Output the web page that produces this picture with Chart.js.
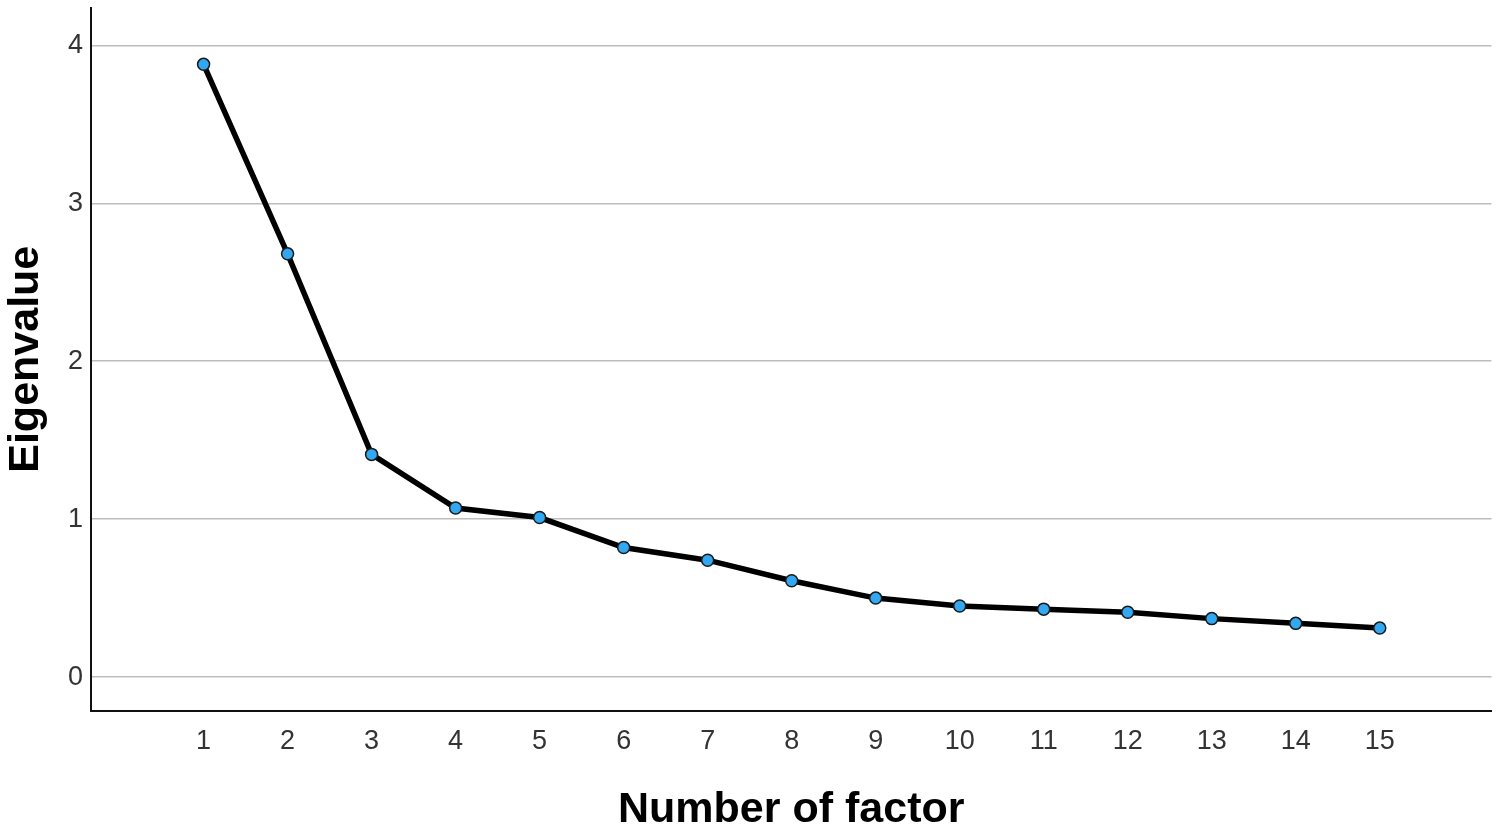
<!DOCTYPE html>
<html>
<head>
<meta charset="utf-8">
<script src="https://cdn.jsdelivr.net/npm/chart.js@4"></script>
<style>
  html, body { margin: 0; padding: 0; background: #fff; }
  #wrap { width: 1499px; height: 830px; }
</style>
</head>
<body>
<div id="wrap"><canvas id="chart"></canvas></div>
<script>
// Scree plot data
const factors = [1, 2, 3, 4, 5, 6, 7, 8, 9, 10, 11, 12, 13, 14, 15];
const eigenvalues = [3.88, 2.68, 1.41, 1.07, 1.01, 0.82, 0.74, 0.61, 0.50, 0.45, 0.43, 0.41, 0.37, 0.34, 0.31];
const yTicks = [0, 1, 2, 3, 4];

const points = factors.map((f, i) => ({ x: f, y: eigenvalues[i] }));
const fontFamily = 'Liberation Sans, Arial, sans-serif';

const ctx = document.getElementById('chart').getContext('2d');
new Chart(ctx, {
  type: 'line',
  data: {
    datasets: [{
      data: points,
      borderColor: '#000',
      borderWidth: 5.5,
      pointRadius: 6,
      pointBorderWidth: 1.5,
      pointBackgroundColor: '#33a8f2',
      pointBorderColor: '#1a1a1a',
      tension: 0,
      fill: false
    }]
  },
  options: {
    responsive: true,
    maintainAspectRatio: false,
    animation: false,
    layout: { padding: { top: 7, right: 7, left: 0, bottom: 0 } },
    plugins: { legend: { display: false }, tooltip: { enabled: false } },
    scales: {
      x: {
        type: 'linear',
        min: -0.34,
        max: 16.33,
        afterBuildTicks: (axis) => { axis.ticks = factors.map(v => ({ value: v })); },
        afterFit: (axis) => { axis.height = 119; axis.paddingLeft = 0; axis.paddingRight = 0; },
        grid: { display: false, drawTicks: false },
        border: { display: true, color: '#111', width: 2 },
        ticks: {
          color: '#333',
          font: { family: fontFamily, size: 27 },
          padding: 14,
          maxRotation: 0
        },
        title: {
          display: true,
          text: 'Number of factor',
          color: '#000',
          font: { family: fontFamily, size: 43, weight: 'bold' },
          padding: { top: 10, bottom: -6 }
        }
      },
      y: {
        type: 'linear',
        min: -0.215,
        max: 4.24,
        afterBuildTicks: (axis) => { axis.ticks = yTicks.map(v => ({ value: v })); },
        afterFit: (axis) => { axis.width = 91; axis.paddingTop = 0; axis.paddingBottom = 0; },
        grid: { color: '#bdbdbd', lineWidth: 1.5, drawTicks: false },
        border: { display: true, color: '#111', width: 2 },
        ticks: {
          color: '#333',
          font: { family: fontFamily, size: 27 },
          padding: 8
        },
        title: {
          display: true,
          text: 'Eigenvalue',
          color: '#000',
          font: { family: fontFamily, size: 43, weight: 'bold' },
          padding: { top: 0, bottom: 10 }
        }
      }
    }
  }
});
</script>
</body>
</html>
